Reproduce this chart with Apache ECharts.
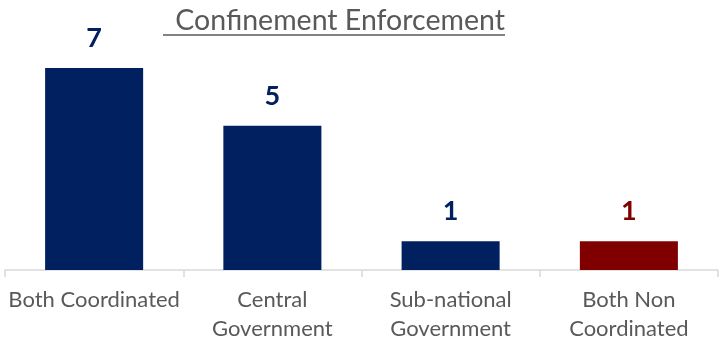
<!DOCTYPE html>
<html>
<head>
<meta charset="utf-8">
<style>
  html, body { margin: 0; padding: 0; background: #ffffff; }
  #chart { width: 721px; height: 346px; }
</style>
<script src="https://cdn.jsdelivr.net/npm/echarts@6/dist/echarts.min.js"></script>
</head>
<body>
<div id="chart"></div>
<script>
// Enforcement categories and counts
const categories = ['Both Coordinated', 'Central\nGovernment', 'Sub-national\nGovernment', 'Both Non\nCoordinated'];
const counts = [7, 5, 1, 1];
const barColors = ['#002060', '#002060', '#002060', '#800000'];
const labelColors = ['#002060', '#002060', '#002060', '#800000'];

const chart = echarts.init(document.getElementById('chart'));

chart.setOption({
  backgroundColor: '#ffffff',
  animation: false,
  title: {
    text: ' Confinement Enforcement',
    left: 163,
    top: 1,
    textStyle: { fontFamily: 'Lato', fontSize: 28.5, fontWeight: 'normal', color: '#595959' }
  },
  graphic: [{
    type: 'line',
    shape: { x1: 163, y1: 35, x2: 505, y2: 35 },
    style: { stroke: '#595959', lineWidth: 1.5 }
  }],
  grid: { left: 5, right: 3, top: 39, bottom: 76 },
  xAxis: {
    type: 'category',
    data: categories,
    axisLine: { lineStyle: { color: '#d9d9d9', width: 1.5 } },
    axisTick: { show: true, length: 7, lineStyle: { color: '#d9d9d9', width: 1.5 } },
    axisLabel: {
      interval: 0,
      margin: 15,
      fontFamily: 'Lato',
      fontSize: 22,
      color: '#595959',
      lineHeight: 29
    }
  },
  yAxis: {
    type: 'value',
    min: 0,
    max: 8,
    show: false,
    splitLine: { show: false }
  },
  series: [{
    type: 'bar',
    barWidth: '55%',
    data: counts.map((v, i) => ({
      value: v,
      itemStyle: { color: barColors[i] },
      label: { color: labelColors[i] }
    })),
    label: {
      show: true,
      position: 'top',
      distance: 16,
      fontFamily: 'Lato',
      fontSize: 27,
      fontWeight: 'bold'
    }
  }]
});
</script>
</body>
</html>
